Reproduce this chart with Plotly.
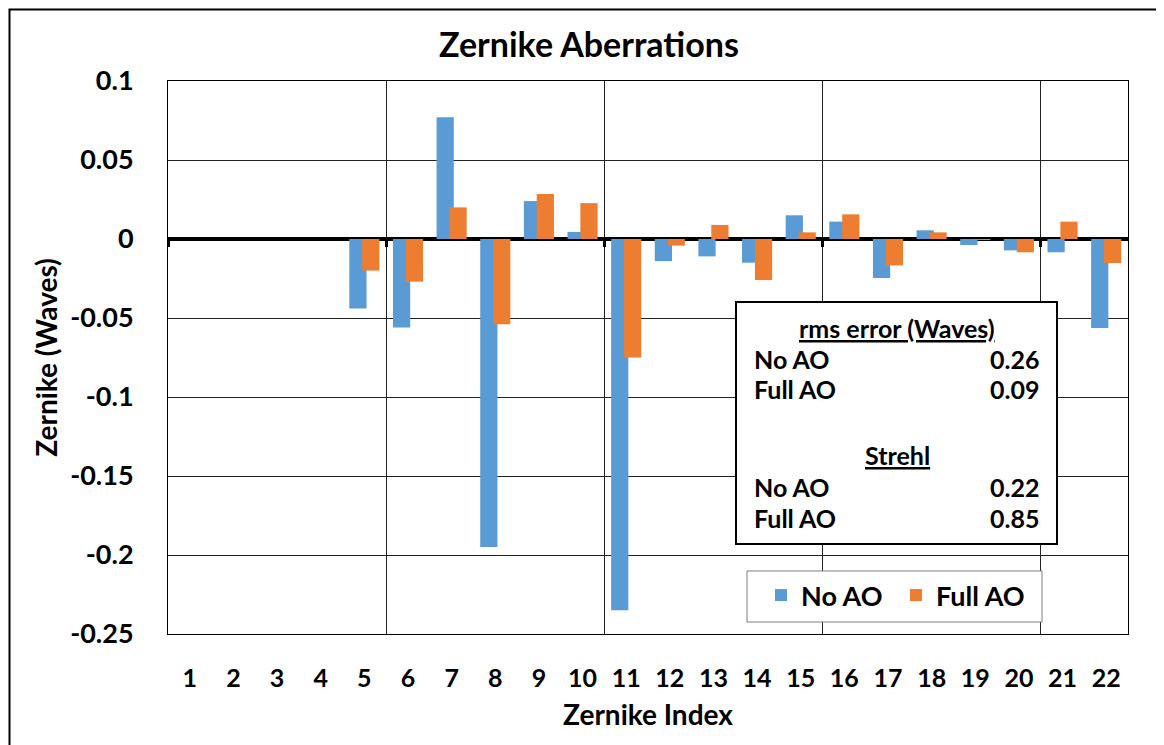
import plotly.graph_objects as go

zernike_index = list(range(1, 23))
no_ao = [0, 0, 0, 0, -0.044, -0.056, 0.077, -0.195, 0.024, 0.0045, -0.235,
         -0.014, -0.011, -0.015, 0.015, 0.011, -0.0247, 0.0055, -0.0038, -0.0072, -0.0084, -0.0563]
full_ao = [0, 0, 0, 0, -0.020, -0.027, 0.020, -0.054, 0.0285, 0.0227, -0.075,
           -0.0042, 0.0089, -0.026, 0.0042, 0.0156, -0.0167, 0.0042, -0.0005, -0.0084, 0.011, -0.0152]
tick_labels = [str(i) for i in zernike_index]
y_ticks = [0.1, 0.05, 0, -0.05, -0.1, -0.15, -0.2, -0.25]
y_tick_labels = ["0.1", "0.05", "0", "-0.05", "-0.1", "-0.15", "-0.2", "-0.25"]
stats_rms = [("No AO", "0.26"), ("Full AO", "0.09")]
stats_strehl = [("No AO", "0.22"), ("Full AO", "0.85")]

W, H = 1164, 745
OFF = 8  # page body margin
# plot area in screen pixels
SL, SR, ST, SB = 168, 1128, 81, 634
FONT = "Lato"


def px(x):
    return (x - SL) / (SR - SL)


def py(y):
    return (SB - y) / (SB - ST)


fig = go.Figure()
fig.add_trace(go.Bar(x=zernike_index, y=no_ao, name="<b>No AO</b>", marker_color="#5B9BD5",
                     marker_line_width=0, width=0.395, offset=-0.345))
fig.add_trace(go.Bar(x=zernike_index, y=full_ao, name="<b>Full AO</b>", marker_color="#ED7D31",
                     marker_line_width=0, width=0.395, offset=-0.05))

fig.update_layout(
    width=W, height=H,
    margin=dict(l=SL - OFF, r=W - (SR - OFF), t=ST - OFF, b=H - (SB - OFF)),
    paper_bgcolor="white", plot_bgcolor="white",
    barmode="overlay",
    font=dict(family=FONT, color="black", size=20),
    title=dict(text="<b>Zernike Aberrations</b>", x=px(589), xref="paper", xanchor="center",
               y=1 - (45 - OFF) / H, yanchor="middle", font=dict(size=34, family=FONT)),
    showlegend=True,
    legend=dict(x=px(761), y=py(571), xanchor="left", yanchor="top", orientation="h",
                borderwidth=0, bgcolor="rgba(0,0,0,0)",
                font=dict(size=27, family=FONT), itemwidth=30, entrywidth=90),
    xaxis=dict(range=[0.5, 22.5], tickvals=zernike_index, ticktext=[f"<b>{t}</b>" for t in tick_labels],
               showgrid=False, zeroline=False, showline=True, linecolor="black", linewidth=1,
               mirror=True, ticks="", ticklabelstandoff=22, tickfont=dict(size=25),
               title=dict(text="<b>Zernike Index</b>", font=dict(size=28), standoff=14)),
    xaxis2=dict(range=[0.5, 22.5], overlaying="x", anchor="free", position=py(239),
                tickvals=[0.5, 5.5, 10.5, 15.5, 20.5], showticklabels=False,
                ticks="outside", ticklen=7, tickwidth=3, tickcolor="black",
                showgrid=True, gridcolor="#222", gridwidth=1, zeroline=False, showline=False),
    yaxis=dict(range=[-0.25, 0.1], tickvals=y_ticks,
               ticktext=[f"<b>{t}</b>" for t in y_tick_labels],
               showgrid=True, gridcolor="#222", gridwidth=1,
               zeroline=True, zerolinecolor="black", zerolinewidth=4,
               showline=True, linecolor="black", linewidth=1, mirror=True,
               ticks="", ticklabelstandoff=28, tickfont=dict(size=27),
               title=dict(text="<b>Zernike (Waves)</b>", font=dict(size=28), standoff=4)),
)

# invisible trace to activate xaxis2
fig.add_trace(go.Scatter(x=[0.5], y=[0], xaxis="x2", mode="markers",
                         marker=dict(opacity=0), showlegend=False, hoverinfo="skip"))

shapes = []
# outer frame (inside the figure canvas)
shapes.append(dict(type="rect", xref="paper", yref="paper",
                   x0=px(OFF + 1.5), x1=px(1160), y0=py(790), y1=py(OFF + 1.5),
                   line=dict(color="black", width=2), fillcolor="rgba(0,0,0,0)", layer="above"))
# stats box
shapes.append(dict(type="rect", xref="paper", yref="paper",
                   x0=px(736), x1=px(1057), y0=py(544), y1=py(302),
                   line=dict(color="black", width=2), fillcolor="white", layer="above"))
# legend box
shapes.append(dict(type="rect", xref="paper", yref="paper",
                   x0=px(747), x1=px(1042), y0=py(622), y1=py(571),
                   line=dict(color="#7f7f7f", width=1), fillcolor="white", layer="above"))
fig.update_layout(shapes=shapes)

ann = []


def add_text(text, x, y, anchor):
    ann.append(dict(text=text, xref="paper", yref="paper", x=px(x), y=py(y),
                    xanchor=anchor, yanchor="middle", showarrow=False,
                    font=dict(size=25, family=FONT, color="black")))


add_text("<b><u>rms error (Waves)</u></b>", 897, 328, "center")
for i, (lab, val) in enumerate(stats_rms):
    add_text(f"<b>{lab}</b>", 752, 359 + i * 30, "left")
    add_text(f"<b>{val}</b>", 1041, 359 + i * 30, "right")
add_text("<b><u>Strehl</u></b>", 897, 455, "center")
for i, (lab, val) in enumerate(stats_strehl):
    add_text(f"<b>{lab}</b>", 752, 487 + i * 31, "left")
    add_text(f"<b>{val}</b>", 1041, 487 + i * 31, "right")
fig.update_layout(annotations=ann)

fig.write_html("out.html")
